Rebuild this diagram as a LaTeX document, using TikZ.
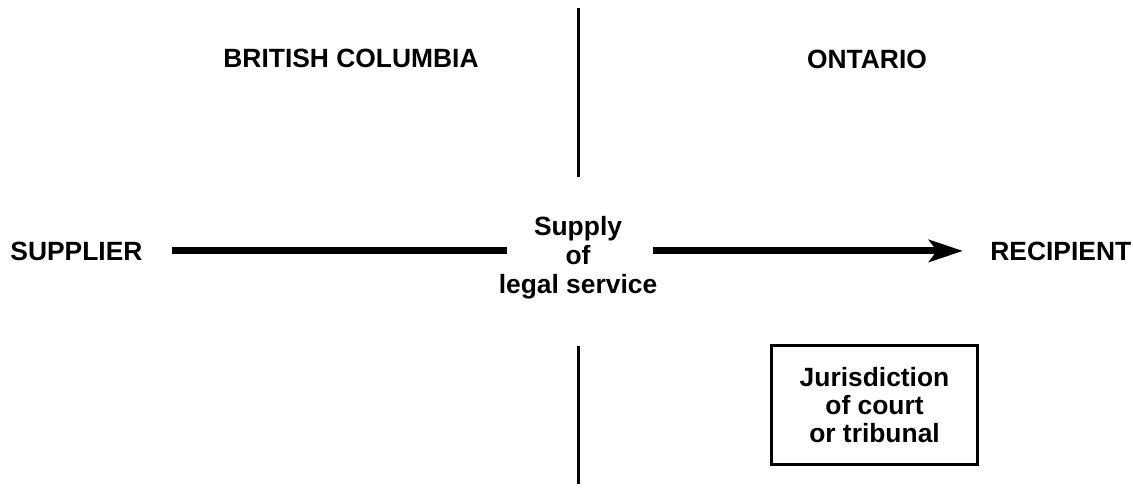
\documentclass[tikz,border=0pt]{standalone}
\usepackage{fontspec}
\setmainfont{Liberation Sans}
\usetikzlibrary{arrows.meta}

\begin{document}
\begin{tikzpicture}[x=0.5pt,y=-0.5pt,>={Stealth[length=17pt,width=11pt,inset=4pt]},
    every node/.style={inner sep=0pt,font=\bfseries\fontsize{13.2}{14.6}\selectfont}]
    \useasboundingbox (0,0) rectangle (1133,487);

    % province border
    \draw[line width=1.5pt] (578,8) -- (578,177);
    \draw[line width=1.5pt] (578,346) -- (578,484);

    \node (bc) [anchor=base] at (351,67) {BRITISH COLUMBIA};
    \node (ontario) [anchor=base] at (867,68) {ONTARIO};

    \node (supplier) [anchor=base west] at (10,260) {SUPPLIER};
    \node (supply) [align=center] at (578,258) {Supply\\of\\legal service};
    \node (recipient) [anchor=base west] at (990,260) {RECIPIENT};

    \draw[line width=3.5pt, shorten <=14.5pt, shorten >=-4.5pt] (supplier) -- (supply.west |- supplier);
    \draw[->, line width=3.5pt, shorten <=-2.5pt, shorten >=13.5pt] (supply.east |- supplier) -- (recipient);

    \node (court) [draw, line width=1.5pt, minimum width=103pt, minimum height=59.5pt, align=center,
        font=\bfseries\fontsize{13.2}{14}\selectfont] at (874.5,405) {Jurisdiction\\of court\\or tribunal};
\end{tikzpicture}
\end{document}
